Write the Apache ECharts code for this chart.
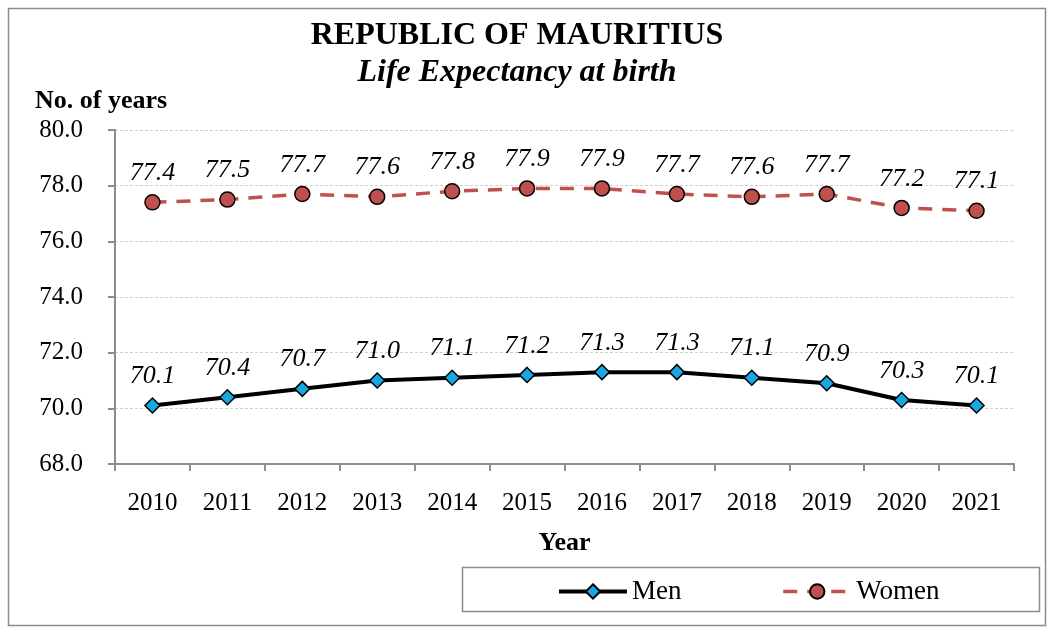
<!DOCTYPE html>
<html>
<head>
<meta charset="utf-8">
<script src="https://cdn.jsdelivr.net/npm/echarts@6/dist/echarts.min.js"></script>
<style>
html, body { margin: 0; padding: 0; background: #fff; }
#chart { width: 1054px; height: 630px; }
</style>
</head>
<body>
<div id="chart"></div>
<script>
// data
var years = ['2010', '2011', '2012', '2013', '2014', '2015', '2016', '2017', '2018', '2019', '2020', '2021'];
var men = [70.1, 70.4, 70.7, 71.0, 71.1, 71.2, 71.3, 71.3, 71.1, 70.9, 70.3, 70.1];
var women = [77.4, 77.5, 77.7, 77.6, 77.8, 77.9, 77.9, 77.7, 77.6, 77.7, 77.2, 77.1];

var font = '"Liberation Serif", "Times New Roman", serif';
var myChart = echarts.init(document.getElementById('chart'));

var labelStyle = {
    show: true,
    position: 'top',
    distance: 8,
    fontFamily: font,
    fontStyle: 'italic',
    fontSize: 26,
    color: '#000',
    formatter: function (p) { return p.value.toFixed(1); }
};

var option = {
    animation: false,
    textStyle: { fontFamily: font },
    title: {
        text: 'REPUBLIC OF MAURITIUS',
        subtext: 'Life Expectancy at birth',
        left: 512,
        textAlign: 'center',
        top: 15,
        itemGap: 5,
        textStyle: { fontFamily: font, fontSize: 32, fontWeight: 'bold', color: '#000' },
        subtextStyle: { fontFamily: font, fontSize: 32, fontWeight: 'bold', fontStyle: 'italic', color: '#000' }
    },
    // 外框和图例框
    graphic: [
        {
            type: 'rect',
            shape: { x: 8.5, y: 8.5, width: 1037, height: 617 },
            style: { fill: 'none', stroke: '#8c8c8c', lineWidth: 1.5 },
            silent: true
        },
        {
            type: 'rect',
            shape: { x: 462.5, y: 567.5, width: 577, height: 44 },
            style: { fill: 'none', stroke: '#8c8c8c', lineWidth: 1.5 },
            silent: true
        },
        {
            type: 'text',
            left: 35,
            top: 88,
            style: { text: 'No. of years', fontFamily: font, fontSize: 26, fontWeight: 'bold', fill: '#000' }
        }
    ],
    legend: {
        data: ['Men', 'Women'],
        left: 552,
        top: 573,
        itemWidth: 68,
        itemHeight: 18,
        itemGap: 100,
        lineStyle: { width: 'inherit' },
        textStyle: { fontFamily: font, fontSize: 27, color: '#000' }
    },
    grid: {
        left: 115,
        right: 40,
        top: 130,
        bottom: 166
    },
    xAxis: {
        type: 'category',
        data: years,
        name: 'Year',
        nameLocation: 'middle',
        nameGap: 66,
        nameTextStyle: { fontFamily: font, fontSize: 26, fontWeight: 'bold', color: '#000' },
        axisLine: { lineStyle: { color: '#8c8c8c', width: 2 } },
        axisTick: { show: true, length: 7, lineStyle: { color: '#8c8c8c', width: 2 } },
        axisLabel: { fontFamily: font, fontSize: 25, color: '#000', margin: 27 }
    },
    yAxis: {
        type: 'value',
        min: 68,
        max: 80,
        interval: 2,
        axisLine: { show: true, lineStyle: { color: '#8c8c8c', width: 2 } },
        axisTick: { show: true, length: 7, lineStyle: { color: '#8c8c8c', width: 2 } },
        axisLabel: {
            fontFamily: font, fontSize: 25, color: '#000', margin: 32,
            formatter: function (v) { return v.toFixed(1); }
        },
        splitLine: { lineStyle: { color: '#cfcfcf', type: [3, 2], width: 1 } }
    },
    series: [
        {
            name: 'Men',
            type: 'line',
            data: men,
            symbol: 'diamond',
            symbolSize: 15,
            lineStyle: { color: '#000', width: 4 },
            itemStyle: { color: '#17a7e3', borderColor: '#000', borderWidth: 1.5 },
            label: labelStyle
        },
        {
            name: 'Women',
            type: 'line',
            data: women,
            symbol: 'circle',
            symbolSize: 15,
            lineStyle: { color: '#c0504d', width: 3.5, type: [14, 10] },
            itemStyle: { color: '#c0504d', borderColor: '#000', borderWidth: 1.5 },
            label: labelStyle
        }
    ]
};
myChart.setOption(option);
</script>
</body>
</html>
